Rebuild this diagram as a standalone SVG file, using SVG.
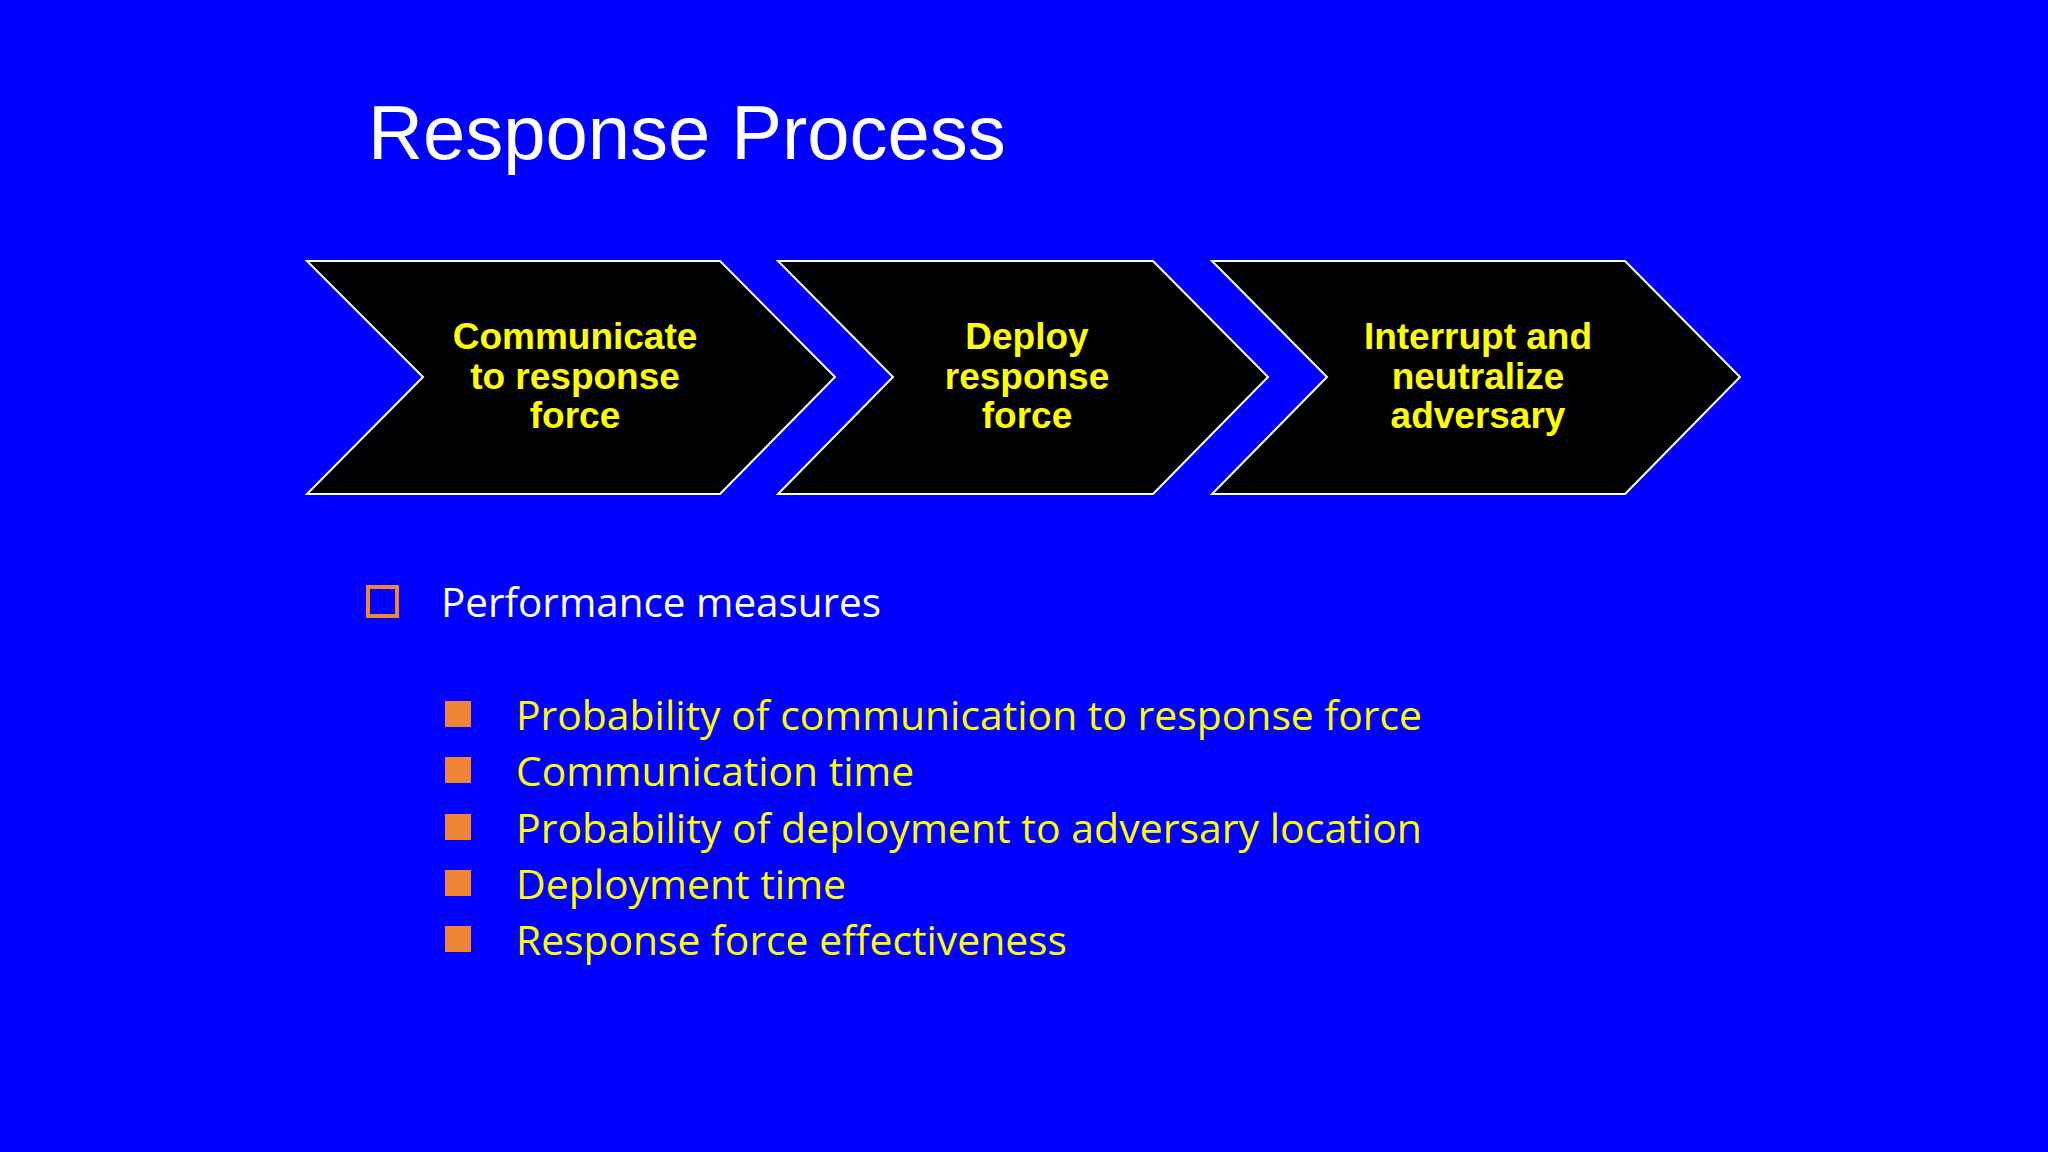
<svg xmlns="http://www.w3.org/2000/svg" width="2048" height="1152" viewBox="0 0 2048 1152">
<style>
.chev{fill:#000;stroke:#fff;stroke-width:2}
.ct{font-family:"Liberation Sans",Arial,sans-serif;font-weight:bold;font-size:37px;fill:#FFFF00;text-anchor:middle}
.sb{fill:#F08535}
.st{font-family:"Open Sans","Noto Sans",sans-serif;font-size:41px;fill:#FFFF00}
</style>
<rect width="2048" height="1152" fill="#0000FF"/>
<text x="368" y="159" font-family="Liberation Sans,Arial,sans-serif" font-size="76" fill="#fff">Response Process</text>
<g id="step1"><polygon class="chev" points="307,261 720,261 835,377 720,494 307,494 423,377"/>
<text class="ct" x="575" y="349">Communicate</text><text class="ct" x="575" y="389">to response</text><text class="ct" x="575" y="428">force</text></g>
<g id="step2"><polygon class="chev" points="778,261 1153,261 1268,377 1153,494 778,494 893,377"/>
<text class="ct" x="1027" y="349">Deploy</text><text class="ct" x="1027" y="389">response</text><text class="ct" x="1027" y="428">force</text></g>
<g id="step3"><polygon class="chev" points="1212,261 1625,261 1740,377 1625,494 1212,494 1327,377"/>
<text class="ct" x="1478" y="349">Interrupt and</text><text class="ct" x="1478" y="389">neutralize</text><text class="ct" x="1478" y="428">adversary</text></g>
<g id="connectors"/>
<g id="measures">
<rect x="368" y="587" width="29" height="29" fill="none" stroke="#F08535" stroke-width="4"/>
<text x="441" y="617" font-family="Open Sans,Noto Sans,sans-serif" font-size="41" fill="#fff" textLength="440" lengthAdjust="spacingAndGlyphs">Performance measures</text>
<rect class="sb" x="445" y="701" width="26" height="26"/><text class="st" x="516" y="730" textLength="906" lengthAdjust="spacingAndGlyphs">Probability of communication to response force</text>
<rect class="sb" x="445" y="757" width="26" height="26"/><text class="st" x="516" y="786" textLength="398" lengthAdjust="spacingAndGlyphs">Communication time</text>
<rect class="sb" x="445" y="814" width="26" height="26"/><text class="st" x="516" y="843" textLength="906" lengthAdjust="spacingAndGlyphs">Probability of deployment to adversary location</text>
<rect class="sb" x="445" y="870" width="26" height="26"/><text class="st" x="516" y="899" textLength="330" lengthAdjust="spacingAndGlyphs">Deployment time</text>
<rect class="sb" x="445" y="926" width="26" height="26"/><text class="st" x="516" y="955" textLength="551" lengthAdjust="spacingAndGlyphs">Response force effectiveness</text>
</g>
</svg>
